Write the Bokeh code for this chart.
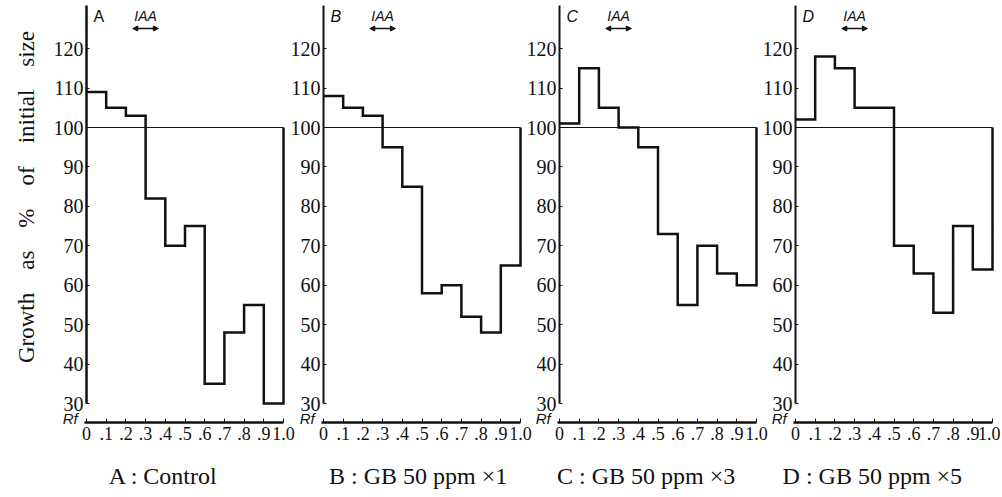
import math
from bokeh.plotting import figure
from bokeh.models import Range1d, FixedTicker, Label, Arrow, NormalHead, LinearAxis
from bokeh.embed import file_html
from bokeh.resources import INLINE

# ---------------- data ----------------
rf_edges = [0.0, 0.1, 0.2, 0.3, 0.4, 0.5, 0.6, 0.7, 0.8, 0.9, 1.0]
x_tick_labels = ["0", ".1", ".2", ".3", ".4", ".5", ".6", ".7", ".8", ".9", "1.0"]
y_ticks = [30, 40, 50, 60, 70, 80, 90, 100, 110, 120]

panel_letters = ["A", "B", "C", "D"]
panel_titles = ["A : Control", "B : GB 50 ppm ×1", "C : GB 50 ppm ×3", "D : GB 50 ppm ×5"]

growth_A = [109, 105, 103, 82, 70, 75, 35, 48, 55, 30]
growth_B = [108, 105, 103, 95, 85, 58, 60, 52, 48, 65]
growth_C = [101, 115, 105, 100, 95, 73, 55, 70, 63, 60]
growth_D = [102, 118, 115, 105, 105, 70, 63, 53, 75, 64]
series = [growth_A, growth_B, growth_C, growth_D]

control_level = 100
iaa_start, iaa_end = 0.235, 0.365
GAP = " \u00a0\u00a0\u00a0"
y_label = GAP.join(["Growth", "as", "%", "of", "initial", "size"])

# ---------------- layout constants ----------------
W, H = 1000, 494
axis_px = [86, 323, 559, 795]      # pixel position of Rf = 0 for each panel
unit_px = 197.0                    # pixels per Rf unit
px_per_pct = 3.944                 # pixels per % growth
y100_px = 127.0                    # pixel row of the 100 % level
title_x = [0.39, 0.48, 0.44, 0.39]
INK = "#111111"
TICK_FONT = "Liberation Sans Narrow"
SERIF = "Liberation Serif"


def val_at(py):
    return control_level + (y100_px - py) / px_per_pct


p = figure(width=W, height=H,
           x_range=Range1d(0, W), y_range=Range1d(val_at(H), val_at(0)),
           output_backend="svg", toolbar_location=None,
           x_axis_location=None, y_axis_location=None,
           min_border_left=0, min_border_right=0, min_border_top=0, min_border_bottom=0)
p.outline_line_color = None
p.grid.visible = False
p.background_fill_color = "white"
p.border_fill_color = "white"

x_axis_y = val_at(422)
y_axis_top = val_at(5)

for i, values in enumerate(series):
    first = i == 0
    rn = f"p{i}"
    p.extra_x_ranges[rn] = Range1d((0 - axis_px[i]) / unit_px, (W - axis_px[i]) / unit_px)

    # y axis
    ya = LinearAxis(x_range_name=rn, fixed_location=0)
    ya.ticker = FixedTicker(ticks=y_ticks)
    ya.bounds = (30, y_axis_top)
    ya.axis_line_width = 2.5 if first else 2
    ya.axis_line_color = INK
    ya.major_tick_in = 3
    ya.major_tick_out = 0
    ya.minor_tick_line_color = None
    ya.major_tick_line_color = INK
    ya.major_label_standoff = 3
    ya.major_label_text_font = TICK_FONT
    ya.major_label_text_font_size = "20px"
    ya.major_label_text_color = INK
    p.add_layout(ya, "left")

    # x axis (Rf)
    xa = LinearAxis(x_range_name=rn, fixed_location=x_axis_y)
    xa.ticker = FixedTicker(ticks=rf_edges)
    xa.major_label_overrides = {t: lbl for t, lbl in zip(rf_edges, x_tick_labels)}
    xa.bounds = (-0.012, 1.0)
    xa.axis_line_width = 2.5
    xa.axis_line_color = INK
    xa.major_tick_in = 4
    xa.major_tick_out = 0
    xa.minor_tick_line_color = None
    xa.major_tick_line_color = INK
    xa.major_label_standoff = 4
    xa.major_label_text_font = TICK_FONT
    xa.major_label_text_font_size = "18px"
    xa.major_label_text_color = INK
    p.add_layout(xa, "below")

    # 100 % reference line
    p.segment(x0=rf_edges[0], x1=rf_edges[-1], y0=control_level, y1=control_level,
              line_color=INK, line_width=1, x_range_name=rn)

    # histogram outline
    p.step(x=rf_edges, y=values + [control_level], mode="after",
           line_width=2.5, line_color=INK, line_join="miter", x_range_name=rn)

    # panel letter
    p.add_layout(Label(x=0.035, y=val_at(15.5), text=panel_letters[i], x_range_name=rn,
                       text_align="left", text_baseline="middle",
                       text_font="Liberation Sans", text_font_size="16px",
                       text_font_style="normal" if first else "italic",
                       text_color=INK))
    # IAA marker
    p.add_layout(Label(x=(iaa_start + iaa_end) / 2, y=val_at(15), text="IAA", x_range_name=rn,
                       text_align="center", text_baseline="middle",
                       text_font="Liberation Sans", text_font_size="14px",
                       text_font_style="italic", text_color=INK))
    p.add_layout(Arrow(x_start=iaa_start, y_start=val_at(28), x_end=iaa_end, y_end=val_at(28),
                       x_range_name=rn, line_width=1.5, line_color=INK,
                       start=NormalHead(size=5, fill_color=INK, line_color=INK),
                       end=NormalHead(size=5, fill_color=INK, line_color=INK)))
    # Rf label
    p.add_layout(Label(x=-0.045, y=val_at(418), text="Rf", x_range_name=rn,
                       text_align="right", text_baseline="middle",
                       text_font="Liberation Sans", text_font_size="15px",
                       text_font_style="italic", text_color=INK))
    # panel title
    p.add_layout(Label(x=title_x[i], y=val_at(475), text=panel_titles[i], x_range_name=rn,
                       text_align="center", text_baseline="middle",
                       text_font=SERIF, text_font_size="24px",
                       text_color=INK))
    if first:
        p.add_layout(Label(x=-0.305, y=val_at(196.5), text=y_label, angle=math.pi / 2,
                           x_range_name=rn,
                           text_align="center", text_baseline="middle",
                           text_font=SERIF, text_font_size="23px",
                           text_color=INK))

open("out.html", "w").write(file_html(p, INLINE))
